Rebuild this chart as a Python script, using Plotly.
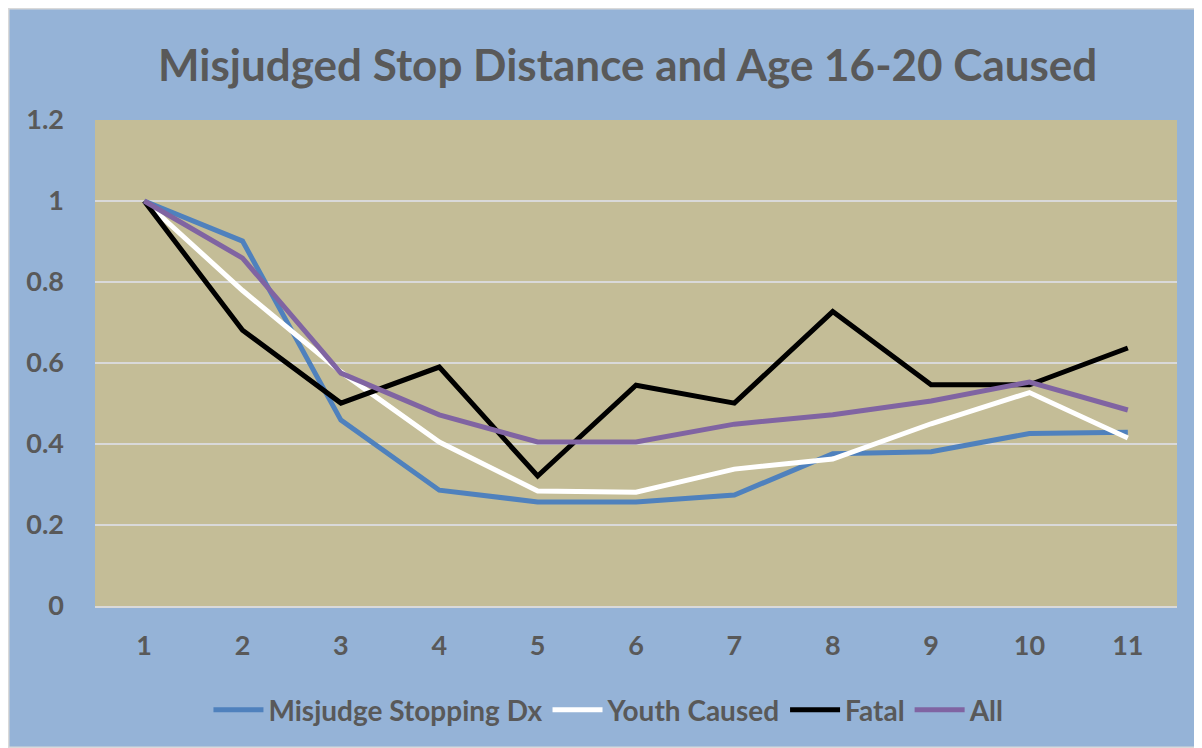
import plotly.graph_objects as go

x_vals = [1, 2, 3, 4, 5, 6, 7, 8, 9, 10, 11]
misjudge = [1.0, 0.901, 0.459, 0.286, 0.257, 0.257, 0.274, 0.376, 0.381, 0.426, 0.429]
youth = [1.0, 0.779, 0.578, 0.405, 0.284, 0.281, 0.338, 0.363, 0.450, 0.527, 0.415]
fatal = [1.0, 0.681, 0.501, 0.590, 0.321, 0.545, 0.501, 0.727, 0.546, 0.546, 0.637]
all_vals = [1.0, 0.859, 0.575, 0.472, 0.405, 0.405, 0.449, 0.472, 0.506, 0.553, 0.484]
series_names = ["Misjudge Stopping Dx", "Youth Caused", "Fatal", "All"]
y_ticks = [0, 0.2, 0.4, 0.6, 0.8, 1, 1.2]
y_ticktext = ["0", "0.2", "0.4", "0.6", "0.8", "1", "1.2"]

colors = ["#4F81BD", "#FFFFFF", "#000000", "#8064A2"]
FONT = "Lato"
TXT = "#595959"

W, H = 1194, 740
ML, MR, MT, MB = 87, 25, 112, 142
PW, PH = W - ML - MR, H - MT - MB

fig = go.Figure()
for name, ys, c in zip(series_names, [misjudge, youth, fatal, all_vals], colors):
    fig.add_trace(go.Scatter(x=x_vals, y=ys, mode="lines", name=name,
                             line=dict(color=c, width=5)))

fig.update_layout(
    width=W, height=H,
    margin=dict(l=ML, r=MR, t=MT, b=MB),
    paper_bgcolor="#95B3D7",
    plot_bgcolor="#C4BD97",
    title=dict(text="<b>Misjudged Stop Distance and Age 16-20 Caused</b>",
               x=0.519, xanchor="center", y=0.9216, yanchor="middle",
               font=dict(family=FONT, size=44, color=TXT)),
    font=dict(family=FONT, color=TXT, size=24),
    legend=dict(orientation="h", x=0.475, xanchor="center", y=-0.214, yanchor="middle",
                font=dict(family=FONT, size=28, color=TXT, weight="bold"),
                bgcolor="rgba(0,0,0,0)", itemwidth=50, tracegroupgap=0),
    showlegend=True,
)
fig.update_xaxes(range=[0.5, 11.5], tickvals=x_vals, ticktext=[str(v) for v in x_vals],
                 showgrid=False, zeroline=False, showline=True, linecolor="#D9D9D9", linewidth=2,
                 ticks="", ticklabelstandoff=15,
                 tickfont=dict(family=FONT, size=27, color=TXT, weight="bold"))
fig.update_yaxes(range=[0, 1.2], tickvals=y_ticks, ticktext=y_ticktext,
                 showgrid=True, gridcolor="#D9D9D9", gridwidth=2, zeroline=False,
                 showline=False, ticks="", ticklabelstandoff=30,
                 tickfont=dict(family=FONT, size=27, color=TXT, weight="bold"))
fig.add_shape(type="rect", xref="paper", yref="paper", x0=-ML / PW, x1=1 + MR / PW,
              y0=-MB / PH, y1=1 + MT / PH, line=dict(color="#D9D9D9", width=3),
              fillcolor="rgba(0,0,0,0)", layer="above")

fig.write_html("out.html")
